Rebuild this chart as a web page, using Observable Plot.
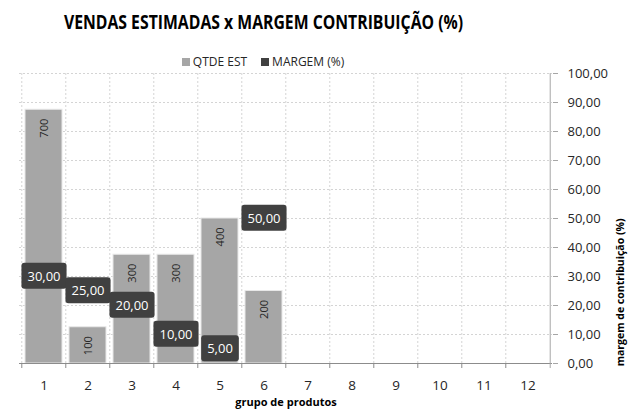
<!DOCTYPE html>
<html><head><meta charset="utf-8">
<script src="https://cdn.jsdelivr.net/npm/d3@7"></script>
<script src="https://cdn.jsdelivr.net/npm/@observablehq/plot@0.6"></script>
<style>
body{margin:0;background:#fff;font-family:"Open Sans",sans-serif;color:#262626}
#wrap{width:628px;height:414px;position:relative;overflow:hidden;background:#fff}
#title{width:526px;height:44px;line-height:44px;text-align:center;white-space:nowrap}
#title span{display:inline-block;font-weight:bold;font-size:19px;color:#000;transform:scaleX(0.83);transform-origin:center}
#legend{position:absolute;left:0;top:53px;width:526px;height:18px;line-height:18px;text-align:center;font-size:12px;z-index:2;white-space:nowrap}
.sw{display:inline-block;width:8px;height:8px;margin-right:3px;vertical-align:0px}
#chart svg{display:block;overflow:visible}
</style></head><body>
<div id="wrap">
<div id="title"><span>VENDAS ESTIMADAS x MARGEM CONTRIBUIÇÃO (%)</span></div>
<div id="legend"><span class="sw" style="background:#a6a6a6"></span>QTDE EST<span class="sw" style="background:#404040;margin-left:14px"></span>MARGEM (%)</div>
<div id="chart"></div>
</div>
<script>
// ---- data ----
const grupos = [1,2,3,4,5,6,7,8,9,10,11,12];
const gruposComDados = [1,2,3,4,5,6];
const qtdeEst = [700,100,300,300,400,200];
const margem = [30,25,20,10,5,50];
const yTicks = [0,10,20,30,40,50,60,70,80,90,100];
const qtdeMax = 800;   // hidden primary axis max
const pctMax = 100;    // secondary axis max
const xLabel = "grupo de produtos";
const yLabel = "margem de contribuição (%)";

const barras = gruposComDados.map((g,i)=>({grupo:g, qtde:qtdeEst[i]}));
const margens = gruposComDados.map((g,i)=>({grupo:g, margem:margem[i]}));
const fmt2 = d => d.toFixed(2).replace(".", ",");
const toPct = q => q * pctMax / qtdeMax;

const W = 628, H = 370, mL = 19, mR = 76, mT = 29, mB = 51;
const step = (W - mL - mR) / grupos.length;
const gridStyle = {stroke:"#d4d4d4", strokeOpacity:1, strokeDasharray:"2,2", strokeWidth:1};
const LABEL_FILL = "#fffffe";

const plot = Plot.plot({
  width: W, height: H,
  marginLeft: mL, marginRight: mR, marginTop: mT, marginBottom: mB,
  style: {fontFamily:"Open Sans", fontSize:"13px", color:"#262626", background:"white"},
  x: {type:"band", domain: grupos, paddingInner: 0.16, paddingOuter: 0.08},
  y: {domain:[0, pctMax]},
  marks: [
    Plot.gridY(yTicks, gridStyle),
    Plot.ruleX(grupos, {x: d=>d, dx: -step/2, ...gridStyle}),
    Plot.barY(barras, {x:"grupo", y: d=>toPct(d.qtde), fill:"#a6a6a6", stroke:"#e8e8e8", strokeWidth:1}),
    Plot.text(barras, {x:"grupo", y: d=>toPct(d.qtde), text: d=>String(d.qtde), rotate:-90, textAnchor:"end", dy:9, fontSize:11, fill:"#262626"}),
    Plot.ruleY([0], {stroke:"#8c8c8c", strokeWidth:1}),
    Plot.ruleX(grupos, {x: d=>d, dx: -step/2, y1:0, y2:0, insetBottom:-5, stroke:"#8c8c8c"}),
    Plot.ruleX(grupos.slice(-1), {x: d=>d, dx: step/2, insetBottom:-5, stroke:"#a6a6a6"}),
    Plot.axisX({tickSize:0, tickPadding:17, fontSize:13.5, label:null}),
    Plot.axisY({anchor:"right", ticks: yTicks, tickFormat: fmt2, tickSize:5, tickPadding:10, stroke:"#a6a6a6", fontSize:13, label:null}),
    Plot.text([yLabel], {frameAnchor:"right", rotate:-90, dx:68, fontWeight:"bold", fontSize:10.5, fill:"#000"}),
    Plot.text([xLabel], {frameAnchor:"bottom", dy:42, fontWeight:"bold", fontSize:11, fill:"#000"}),
    Plot.text(margens, {x:"grupo", y:"margem", text: d=>fmt2(d.margem), fill: LABEL_FILL, fontSize:13})
  ]
});
document.getElementById("chart").append(plot);

// dark rounded boxes behind margin labels
function addBoxes() {
  const texts = Array.from(plot.querySelectorAll("text")).filter(t => {
    const f = (t.getAttribute("fill") || (t.parentNode && t.parentNode.getAttribute && t.parentNode.getAttribute("fill")) || "").toLowerCase();
    return f === LABEL_FILL;
  });
  texts.forEach(t => {
    let bb;
    try { bb = t.getBBox(); } catch (e) { return; }
    const r = document.createElementNS("http://www.w3.org/2000/svg","rect");
    r.setAttribute("x", bb.x - 6);
    r.setAttribute("y", bb.y - 4);
    r.setAttribute("width", bb.width + 12);
    r.setAttribute("height", bb.height + 8);
    r.setAttribute("rx", 3);
    r.setAttribute("fill", "#404040");
    r.setAttribute("stroke", "none");
    const tr = t.getAttribute("transform");
    if (tr) r.setAttribute("transform", tr);
    t.parentNode.insertBefore(r, t);
  });
}
addBoxes();
</script>
</body></html>
